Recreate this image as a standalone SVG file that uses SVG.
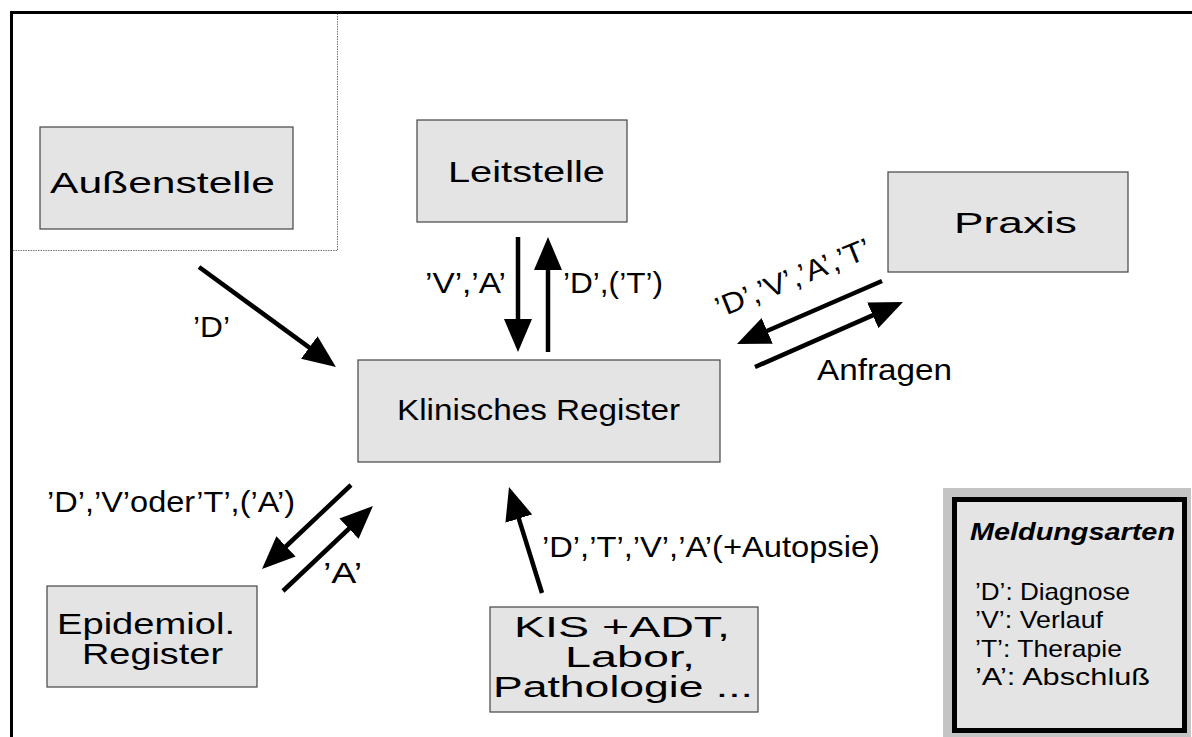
<svg xmlns="http://www.w3.org/2000/svg" width="1192" height="737" viewBox="0 0 1192 737">
  <style>
    text { font-family: "Liberation Sans", Arial, Helvetica, sans-serif; fill: #000; }
    .box { fill: #e4e4e4; stroke: #444; stroke-width: 1.2; }
    .node { font-size: 30px; }
    .lbl { font-size: 29px; }
    .leg { font-size: 24px; }
    .flow { stroke: #000; stroke-width: 4.5; fill: none; marker-end: url(#head); }
  </style>
  <defs>
    <marker id="head" markerUnits="userSpaceOnUse" viewBox="0 -14 33 28" markerWidth="33" markerHeight="28" refX="1" refY="0" orient="auto">
      <path d="M0,-14 L33,0 L0,14 Z" fill="#000"/>
    </marker>
  </defs>

  <rect x="0" y="0" width="1192" height="737" fill="#fff"/>

  <!-- page frame (top and left edges) -->
  <g id="frame">
    <line x1="10" y1="12.5" x2="1192" y2="12.5" stroke="#000" stroke-width="3"/>
    <line x1="11.5" y1="11" x2="11.5" y2="737" stroke="#000" stroke-width="3"/>
    <!-- dotted region around the remote office -->
    <path d="M13,250.5 H337.5 V14" fill="none" stroke="#777" stroke-width="1" stroke-dasharray="1.5 1"/>
  </g>

  <g id="aussenstelle">
    <rect class="box" x="40" y="127" width="253" height="102"/>
    <text class="node" x="50" y="193" textLength="225" lengthAdjust="spacingAndGlyphs">Außenstelle</text>
  </g>

  <g id="leitstelle">
    <rect class="box" x="417" y="120" width="210" height="102"/>
    <text class="node" x="448" y="182" font-size="26" textLength="157" lengthAdjust="spacingAndGlyphs">Leitstelle</text>
  </g>

  <g id="praxis">
    <rect class="box" x="888" y="172" width="240" height="100"/>
    <text class="node" x="954" y="233" font-size="28" textLength="123" lengthAdjust="spacingAndGlyphs">Praxis</text>
  </g>

  <g id="klinisches-register">
    <rect class="box" x="358" y="360" width="362" height="102"/>
    <text class="node" x="397" y="420" font-size="28" textLength="283" lengthAdjust="spacingAndGlyphs">Klinisches Register</text>
  </g>

  <g id="epidemiol-register">
    <rect class="box" x="47" y="586" width="210" height="101"/>
    <text class="node" x="57" y="634" font-size="24" textLength="178" lengthAdjust="spacingAndGlyphs">Epidemiol.</text>
    <text class="node" x="82" y="664" font-size="24" textLength="141" lengthAdjust="spacingAndGlyphs">Register</text>
  </g>

  <g id="kis">
    <rect class="box" x="490" y="607" width="268" height="105"/>
    <text class="node" x="514" y="637" font-size="26" textLength="216" lengthAdjust="spacingAndGlyphs">KIS +ADT,</text>
    <text class="node" x="565" y="667" font-size="26" textLength="130" lengthAdjust="spacingAndGlyphs">Labor,</text>
    <text class="node" x="493" y="697" font-size="26" textLength="260" lengthAdjust="spacingAndGlyphs">Pathologie ...</text>
  </g>

  <g id="legende">
    <rect x="943" y="488" width="248" height="249" fill="#c4c4c4"/>
    <rect x="954.5" y="499.5" width="230" height="231" fill="#e4e4e4" stroke="#000" stroke-width="5"/>
    <text x="970" y="540" font-size="24" font-weight="bold" font-style="italic" textLength="205" lengthAdjust="spacingAndGlyphs">Meldungsarten</text>
    <text class="leg" x="975" y="600" textLength="155" lengthAdjust="spacingAndGlyphs">’D’: Diagnose</text>
    <text class="leg" x="975" y="628" textLength="128" lengthAdjust="spacingAndGlyphs">’V’: Verlauf</text>
    <text class="leg" x="975" y="657" textLength="147" lengthAdjust="spacingAndGlyphs">’T’: Therapie</text>
    <text class="leg" x="975" y="685" textLength="175" lengthAdjust="spacingAndGlyphs">’A’: Abschluß</text>
  </g>

  <!-- message flows -->
  <g id="connectors">
    <path class="flow" d="M199,267 L310.1,348.1"/>
    <path class="flow" d="M518,237 L518,320"/>
    <path class="flow" d="M548,352 L548,269"/>
    <path class="flow" d="M882,281 L766.3,331.3"/>
    <path class="flow" d="M755,367 L873.7,314.9"/>
    <path class="flow" d="M351,485 L285.3,547"/>
    <path class="flow" d="M283,591 L349.7,528"/>
    <path class="flow" d="M542,593 L518.5,517.6"/>

    <text class="lbl" x="193" y="337" textLength="37" lengthAdjust="spacingAndGlyphs">’D’</text>
    <text class="lbl" x="425" y="293" textLength="81" lengthAdjust="spacingAndGlyphs">’V’,’A’</text>
    <text class="lbl" x="563" y="293" textLength="100" lengthAdjust="spacingAndGlyphs">’D’,(’T’)</text>
    <text class="lbl" x="0" y="0" font-size="27" textLength="165" lengthAdjust="spacingAndGlyphs" transform="translate(720,318) rotate(-22)">’D’,’V’,’A’,’T’</text>
    <text class="lbl" x="817" y="380" font-size="28" textLength="135" lengthAdjust="spacingAndGlyphs">Anfragen</text>
    <text class="lbl" x="47" y="512" font-size="28" textLength="248" lengthAdjust="spacingAndGlyphs">’D’,’V’oder’T’,(’A’)</text>
    <text class="lbl" x="323" y="583" font-size="28" textLength="39" lengthAdjust="spacingAndGlyphs">’A’</text>
    <text class="lbl" x="542" y="557" font-size="28" textLength="338" lengthAdjust="spacingAndGlyphs">’D’,’T’,’V’,’A’(+Autopsie)</text>
  </g>
</svg>
